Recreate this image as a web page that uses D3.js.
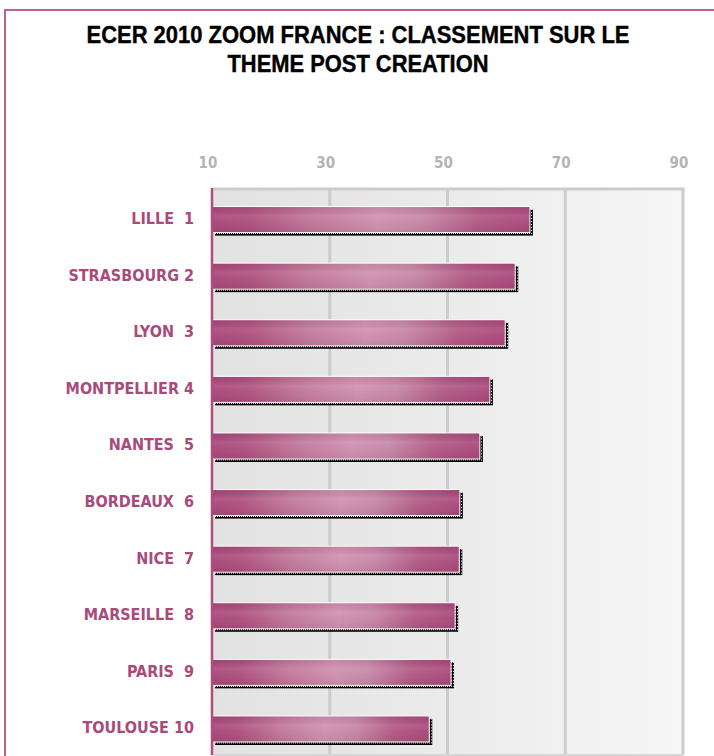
<!DOCTYPE html>
<html>
<head>
<meta charset="utf-8">
<script src="https://cdn.jsdelivr.net/npm/d3@7"></script>
<style>
  body { margin: 0; background: #fff; }
  svg { display: block; }
</style>
</head>
<body>
<div id="chart"></div>
<script>
// Data ------------------------------------------------------------------------
const titleLines = ["ECER 2010 ZOOM FRANCE : CLASSEMENT SUR LE", "THEME POST CREATION"];
const cities = ["LILLE  1", "STRASBOURG 2", "LYON  3", "MONTPELLIER 4", "NANTES  5",
  "BORDEAUX  6", "NICE  7", "MARSEILLE  8", "PARIS  9", "TOULOUSE 10"];
const scores = [64.0, 61.5, 59.8, 57.2, 55.5, 52.1, 52.0, 51.3, 50.6, 46.9];
const tickValues = [10, 30, 50, 70, 90];

// Setup -----------------------------------------------------------------------
const width = 714;
const height = 756;
const plot = { left: 212, right: 683, top: 189, bottom: 755 };
const pink = "#a94a7b";
const labelFont = "'DejaVu Sans Condensed', 'DejaVu Sans', Verdana, sans-serif";

const svg = d3.select("#chart")
  .append("svg")
  .attr("width", width)
  .attr("height", height);

const defs = svg.append("defs");

const bgGrad = defs.append("linearGradient")
  .attr("id", "bg-grad")
  .attr("x1", 0).attr("x2", 1).attr("y1", 0).attr("y2", 0);
[[0, "#e2e2e2"], [0.25, "#e6e6e6"], [0.5, "#ebebeb"], [0.75, "#f1f1f1"], [1, "#f6f6f6"]]
  .forEach(([o, c]) => bgGrad.append("stop").attr("offset", o).attr("stop-color", c));

const barGrad = defs.append("linearGradient")
  .attr("id", "bar-grad")
  .attr("x1", 0).attr("x2", 1).attr("y1", 0).attr("y2", 0);
[[0, "#a84678"], [0.12, "#ad4e7d"], [0.32, "#c07699"], [0.52, "#cf8faf"], [0.66, "#c685a6"],
 [0.84, "#b05783"], [1, "#a9477a"]]
  .forEach(([o, c]) => barGrad.append("stop").attr("offset", o).attr("stop-color", c));

const glossGrad = defs.append("linearGradient")
  .attr("id", "gloss-grad")
  .attr("x1", 0).attr("x2", 0).attr("y1", 0).attr("y2", 1);
[[0, "#000", 0.04], [0.35, "#fff", 0.1], [0.6, "#fff", 0.03], [1, "#000", 0.06]]
  .forEach(([o, c, a]) => glossGrad.append("stop")
    .attr("offset", o).attr("stop-color", c).attr("stop-opacity", a));

const dither = defs.append("pattern")
  .attr("id", "dither")
  .attr("width", 2).attr("height", 3)
  .attr("patternUnits", "userSpaceOnUse");
dither.append("rect").attr("width", 2).attr("height", 3).attr("fill", "#000");
dither.append("rect").attr("x", 1).attr("y", 2).attr("width", 1).attr("height", 1).attr("fill", "#fff");

// Frame -----------------------------------------------------------------------
svg.append("rect")
  .attr("x", 5).attr("y", 10)
  .attr("width", 900).attr("height", 900)
  .attr("fill", "none")
  .attr("stroke", "#c25d8d")
  .attr("stroke-width", 2);

// Title -----------------------------------------------------------------------
const titleWidths = [543, 261];
svg.append("g")
  .selectAll("text")
  .data(titleLines)
  .join("text")
  .attr("x", 358)
  .attr("y", (d, i) => 43 + i * 29)
  .attr("text-anchor", "middle")
  .attr("textLength", (d, i) => titleWidths[i])
  .attr("lengthAdjust", "spacingAndGlyphs")
  .style("font-family", "'Liberation Sans', Arial, sans-serif")
  .style("font-weight", "bold")
  .style("font-size", "24.5px")
  .attr("fill", "#000")
  .attr("stroke", "#000")
  .attr("stroke-width", 0.4)
  .text(d => d);

// Scales ----------------------------------------------------------------------
const x = d3.scaleLinear()
  .domain([10, 90])
  .range([plot.left, plot.right]);

const y = d3.scaleBand()
  .domain(cities)
  .range([plot.top, plot.bottom]);

// Plot background and grid ----------------------------------------------------
svg.append("rect")
  .attr("x", plot.left).attr("y", plot.top)
  .attr("width", plot.right - plot.left)
  .attr("height", plot.bottom - plot.top)
  .attr("fill", "url(#bg-grad)");

svg.append("g")
  .selectAll("line")
  .data(tickValues.slice(1))
  .join("line")
  .attr("x1", d => x(d)).attr("x2", d => x(d))
  .attr("y1", plot.top).attr("y2", plot.bottom)
  .attr("stroke", "#cccccc")
  .attr("stroke-width", 3);

svg.append("line")
  .attr("x1", plot.left).attr("x2", plot.right + 1.5)
  .attr("y1", plot.top).attr("y2", plot.top)
  .attr("stroke", "#cccccc")
  .attr("stroke-width", 3);

svg.append("line")
  .attr("x1", plot.left).attr("x2", plot.right)
  .attr("y1", plot.bottom).attr("y2", plot.bottom)
  .attr("stroke", "#d6d6d6")
  .attr("stroke-width", 2);

// Tick labels on top
svg.append("g")
  .selectAll("text")
  .data(tickValues)
  .join("text")
  .attr("x", d => x(d) - 4)
  .attr("y", 168)
  .attr("text-anchor", "middle")
  .style("font-family", labelFont)
  .style("font-weight", "bold")
  .style("font-size", "15px")
  .attr("fill", "#b4b4b4")
  .text(d => d);

// Bars ------------------------------------------------------------------------
const barTop = y.bandwidth() * 0.31;
const barH = y.bandwidth() * 0.46;

const rows = svg.append("g")
  .selectAll("g")
  .data(cities.map((c, i) => ({ city: c, score: scores[i] })))
  .join("g")
  .attr("transform", d => `translate(0,${y(d.city)})`);

rows.append("rect")
  .attr("x", x(10) + 3)
  .attr("y", barTop + 3)
  .attr("width", d => x(d.score) - x(10))
  .attr("height", barH)
  .attr("fill", "url(#dither)");

rows.append("rect")
  .attr("x", x(10))
  .attr("y", barTop)
  .attr("width", d => x(d.score) - x(10))
  .attr("height", barH)
  .attr("fill", "url(#bar-grad)")
  .attr("stroke", "#fff")
  .attr("stroke-width", 1);

rows.append("rect")
  .attr("x", x(10) + 0.5)
  .attr("y", barTop + 0.5)
  .attr("width", d => x(d.score) - x(10) - 1)
  .attr("height", barH - 1)
  .attr("fill", "url(#gloss-grad)");

// Category labels
rows.append("text")
  .attr("x", 194)
  .attr("y", barTop + barH / 2 + 4.5)
  .attr("text-anchor", "end")
  .style("white-space", "pre")
  .style("font-family", labelFont)
  .style("font-weight", "bold")
  .style("font-size", "16px")
  .attr("fill", pink)
  .text(d => d.city);

// Left axis line
svg.append("line")
  .attr("x1", plot.left).attr("x2", plot.left)
  .attr("y1", plot.top - 1).attr("y2", plot.bottom)
  .attr("stroke", "#b04c80")
  .attr("stroke-width", 2.5);
</script>
</body>
</html>
